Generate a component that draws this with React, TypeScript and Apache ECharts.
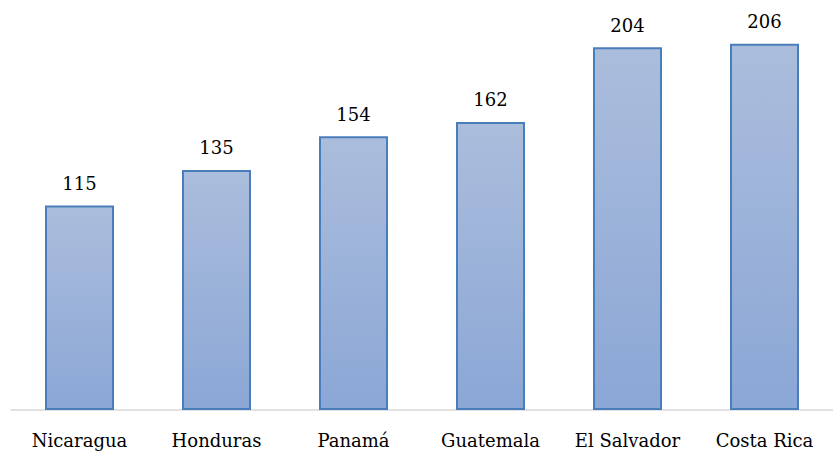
import React, { useEffect, useRef } from "react";
import * as echarts from "echarts";

const categories = ["Nicaragua", "Honduras", "Panamá", "Guatemala", "El Salvador", "Costa Rica"];
const values = [115, 135, 154, 162, 204, 206];

const serif = "'DejaVu Serif', serif";

export default function App() {
  const ref = useRef<HTMLDivElement>(null);
  useEffect(() => {
    document.body.style.margin = "0";
    const chart = echarts.init(ref.current!, null, { renderer: "svg" });
    chart.setOption({
      animation: false,
      grid: { left: 11, top: 1, width: 830, height: 409, containLabel: false },
      xAxis: {
        type: "category",
        data: categories,
        axisLine: { lineStyle: { color: "#d9d9d9", width: 1.5 } },
        axisTick: { show: false },
        axisLabel: {
          interval: 0,
          color: "#000",
          fontFamily: serif,
          fontSize: 18,
          margin: 21,
        },
      },
      yAxis: { type: "value", min: 0, max: 230, show: false, splitLine: { show: false } },
      series: [
        {
          type: "bar",
          data: values,
          barWidth: 69,
          itemStyle: {
            color: new echarts.graphic.LinearGradient(0, 0, 0, 1, [
              { offset: 0, color: "#abbddc" },
              { offset: 1, color: "#8ba7d6" },
            ]),
            borderColor: "#4a7ebb",
            borderWidth: 2,
          },
          label: {
            show: true,
            position: "top",
            distance: 13,
            color: "#000",
            fontFamily: serif,
            fontSize: 18,
          },
        },
      ],
    });
    return () => chart.dispose();
  }, []);
  return <div ref={ref} style={{ width: 833, height: 455 }} />;
}
